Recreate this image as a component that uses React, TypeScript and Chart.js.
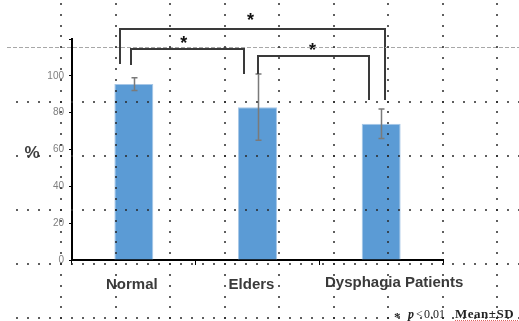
import React, { useEffect, useRef } from "react";
import { Chart, registerables } from "chart.js";

Chart.register(...registerables);

// ---- data ----
const categories = ["Normal", "Elders", "Dysphagia Patients"];
const means = [95.5, 83, 74];
const sds = [3.5, 18, 8];
const yTicks = [0, 20, 40, 60, 80, 100, 120];

// significance brackets (category index positions, values in % units)
const bracketFrom = [-0.113, -0.024, 1.0];
const bracketTo = [2.03, 0.887, 1.903];
const bracketLevel = [125.4, 114.6, 110.8];
const bracketFromEnd = [106.4, 105.9, 101];
const bracketToEnd = [86.9, 101, 86.9];
const starAt = [0.944, 0.403, 1.444];
const starLevel = [132, 119.8, 115.8];

// label horizontal nudges (px) as placed in the original slide
const labelNudge = [-2, -6, 13];

const FONT = '"Liberation Sans", Arial, sans-serif';
const SERIF = '"Liberation Serif", "Times New Roman", serif';

function drawCenteredText(ctx: CanvasRenderingContext2D, text: string, cx: number, cy: number) {
  const m = ctx.measureText(text);
  const a = m.actualBoundingBoxAscent;
  const d = m.actualBoundingBoxDescent;
  ctx.textBaseline = "alphabetic";
  ctx.textAlign = "center";
  ctx.fillText(text, cx, cy + (a - d) / 2);
}

const decorPlugin = {
  id: "decor",
  afterDatasetsDraw(chart: any) {
    const ctx: CanvasRenderingContext2D = chart.ctx;
    const xs = chart.scales.x;
    const ys = chart.scales.y;
    const meta = chart.getDatasetMeta(0);
    const p0 = xs.getPixelForValue(0);
    const p1 = xs.getPixelForValue(1);
    const xAt = (i: number) => p0 + (p1 - p0) * i;

    ctx.save();
    // category labels
    ctx.fillStyle = "#3a3a3a";
    ctx.font = `bold 15px ${FONT}`;
    categories.forEach((c, i) => {
      drawCenteredText(ctx, c, xAt(i) + labelNudge[i], chart.chartArea.bottom + 23);
    });

    // error bars
    ctx.strokeStyle = "#7a7a7a";
    ctx.lineWidth = 1.5;
    meta.data.forEach((bar: any, i: number) => {
      const x = Math.round(bar.x) + 0.5;
      const yt = ys.getPixelForValue(means[i] + sds[i]);
      const yb = ys.getPixelForValue(means[i] - sds[i]);
      ctx.beginPath();
      ctx.moveTo(x, yt);
      ctx.lineTo(x, yb);
      ctx.moveTo(x - 3, yt);
      ctx.lineTo(x + 3, yt);
      ctx.moveTo(x - 3, yb);
      ctx.lineTo(x + 3, yb);
      ctx.stroke();
    });

    // brackets
    ctx.strokeStyle = "#3a3a3a";
    ctx.lineWidth = 2;
    ctx.lineJoin = "miter";
    for (let i = 0; i < bracketFrom.length; i++) {
      const xa = Math.round(xAt(bracketFrom[i]));
      const xb = Math.round(xAt(bracketTo[i]));
      const yl = Math.round(ys.getPixelForValue(bracketLevel[i]));
      ctx.beginPath();
      ctx.moveTo(xa, ys.getPixelForValue(bracketFromEnd[i]));
      ctx.lineTo(xa, yl);
      ctx.lineTo(xb, yl);
      ctx.lineTo(xb, ys.getPixelForValue(bracketToEnd[i]));
      ctx.stroke();
    }
    ctx.fillStyle = "#111";
    ctx.font = `bold 18px ${FONT}`;
    for (let i = 0; i < starAt.length; i++) {
      drawCenteredText(ctx, "*", xAt(starAt[i]), ys.getPixelForValue(starLevel[i]));
    }

    // "%" axis title
    ctx.fillStyle = "#404040";
    ctx.font = `bold 17px ${FONT}`;
    drawCenteredText(ctx, "%", 32, (chart.chartArea.top + chart.chartArea.bottom) / 2 + 2);

    // footnote
    ctx.fillStyle = "#222";
    ctx.textAlign = "left";
    ctx.textBaseline = "alphabetic";
    ctx.font = `bold 13px ${SERIF}`;
    ctx.fillText("*", 394, 321);
    ctx.font = `italic bold 12px ${SERIF}`;
    ctx.fillText("p", 408, 318);
    ctx.font = `12px ${SERIF}`;
    ctx.fillText("<", 416, 318);
    ctx.fillText("0.01", 424, 318);
    ctx.font = `bold 13px ${SERIF}`;
    (ctx as any).letterSpacing = "0.5px";
    ctx.fillText("Mean\u00B1SD", 455, 318);
    (ctx as any).letterSpacing = "0px";
    ctx.strokeStyle = "#e06060";
    ctx.lineWidth = 1;
    ctx.setLineDash([1, 1]);
    ctx.beginPath();
    ctx.moveTo(455, 320.5);
    ctx.lineTo(519, 320.5);
    ctx.stroke();

    // slide guide (dashed) line
    ctx.strokeStyle = "#a8a8a8";
    ctx.setLineDash([4, 2]);
    ctx.beginPath();
    ctx.moveTo(7, 47.5);
    ctx.lineTo(519, 47.5);
    ctx.stroke();
    ctx.setLineDash([]);

    // slide dot grid
    ctx.fillStyle = "rgba(40,40,40,0.75)";
    const colX0 = 6.5, colStep = 54.5;
    const rowY0 = 47.3, rowStep = 54.2;
    const sub = rowStep / 5;
    const subX = colStep / 5;
    for (let k = 1; k <= 9; k++) {
      const x = colX0 + colStep * k;
      for (let m = -4; m <= 25; m++) {
        const y = rowY0 + sub * m;
        if (y < 0 || y > 321) continue;
        ctx.fillRect(Math.round(x) - 1, Math.round(y) - 1, 2, 2);
      }
    }
    for (let j = 1; j <= 5; j++) {
      const y = rowY0 + rowStep * j;
      for (let n = 1; n <= 48; n++) {
        const x = colX0 + subX * n;
        if (x > 519) continue;
        ctx.fillRect(Math.round(x) - 1, Math.round(y) - 1, 2, 2);
      }
    }
    ctx.restore();
  },
};

export default function App() {
  const ref = useRef<HTMLCanvasElement | null>(null);
  useEffect(() => {
    if (!ref.current) return;
    const chart = new Chart(ref.current, {
      type: "bar",
      data: {
        labels: categories,
        datasets: [
          {
            data: means,
            backgroundColor: "#5b9bd5",
            borderColor: "#a7c7e7",
            borderWidth: 1,
            barPercentage: 0.315,
            categoryPercentage: 1,
          },
        ],
      },
      options: {
        animation: false,
        responsive: false,
        maintainAspectRatio: false,
        layout: { padding: { top: 39, right: 76, left: 0, bottom: 0 } },
        plugins: { legend: { display: false }, tooltip: { enabled: false }, title: { display: false } },
        scales: {
          x: {
            grid: { drawOnChartArea: false, drawTicks: true, tickLength: 5, color: "#000", offset: true },
            border: { display: true, color: "#000", width: 2 },
            ticks: { display: false, autoSkip: false },
            afterFit: (s: any) => { s.height = 61; },
          },
          y: {
            min: 0,
            max: 120,
            afterBuildTicks: (s: any) => { s.ticks = yTicks.map((v) => ({ value: v })); },
            grid: { drawOnChartArea: false, drawTicks: true, tickLength: 3, color: "#000" },
            border: { display: true, color: "#000", width: 2 },
            ticks: {
              font: { family: '"Liberation Sans Narrow", "Liberation Sans", sans-serif', size: 10 },
              color: "#808080",
              padding: 5,
              callback: (v: any) => (v === 120 ? "" : String(v)),
            },
            afterFit: (s: any) => { s.width = 72; },
          },
        },
      },
      plugins: [decorPlugin],
    });
    return () => chart.destroy();
  }, []);
  return (
    <div style={{ position: "absolute", left: 0, top: 0, width: 519, height: 321, background: "#fff" }}>
      <canvas ref={ref} width={519} height={321} />
    </div>
  );
}
